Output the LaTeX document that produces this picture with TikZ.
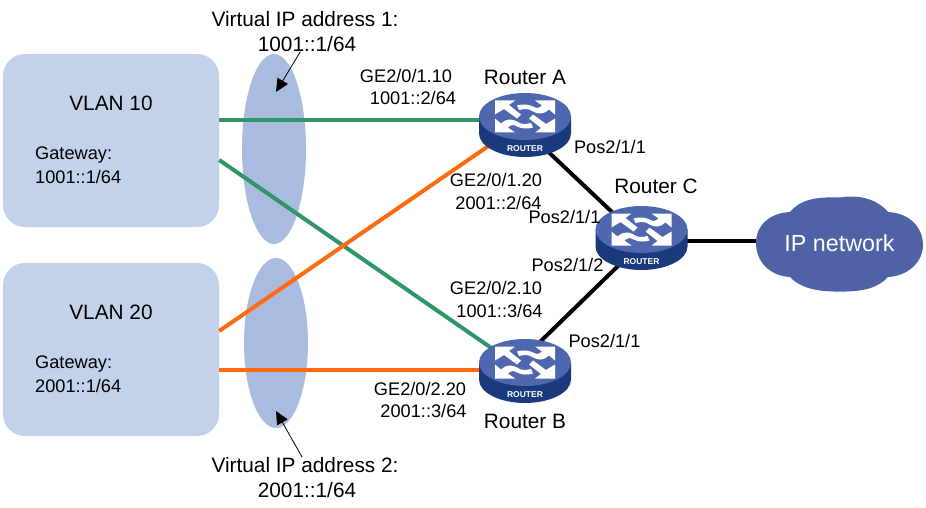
\documentclass[tikz,border=0pt]{standalone}
\usepackage{fontspec}
\setmainfont{Liberation Sans}
\usetikzlibrary{arrows.meta,shapes.geometric}
\definecolor{vlanfill}{HTML}{C3D1EA}
\definecolor{vipfill}{HTML}{A9BBDE}
\definecolor{linkgreen}{HTML}{2F9669}
\definecolor{linkorange}{HTML}{FF6A10}
\definecolor{rtop}{HTML}{4F67AE}
\definecolor{rside}{HTML}{1A3A7B}
\definecolor{cloudfill}{HTML}{4F62A6}
\tikzset{
  x=1pt,y=-1pt,
  vlanbox/.style={draw=none,fill=vlanfill,rounded corners=22pt,minimum width=216pt,minimum height=173pt,inner sep=0pt},
  vip/.style={draw=none,fill=vipfill,ellipse,minimum width=64pt,inner sep=0pt},
  small/.style={inner sep=0pt,text height=13pt,text depth=0pt,font=\fontsize{18.2}{20}\selectfont},
  big/.style={inner sep=0pt,text height=15pt,text depth=0pt,font=\fontsize{20.8}{23}\selectfont},
  routerbox/.style={inner sep=0pt,minimum width=92pt,minimum height=64pt},
  lnk/.style={line width=4pt},
  callout/.style={line width=0.8pt,-{Triangle[length=13pt,width=12pt]}}
}
\newcommand{\rarrowpair}{%
  \fill[white] (-30,-16) -- (-10,-16) -- (-16,-11.5) -- (-4,-2) -- (-8,2) -- (-21,-7.5) -- (-30,-2) -- cycle;
  \fill[white] (30,-16) -- (30,-2) -- (24,-7) .. controls (19,-2) and (13,-2) .. (8,-5)
     .. controls (4,-8) and (0,-8) .. (-6,-6.5) -- (-8,-11) .. controls (-2,-13) and (4,-12) .. (8,-10)
     .. controls (11,-8) and (14,-8) .. (17,-11) -- (10,-16) -- cycle;
}
\newcommand{\routerart}[1]{%
  \begin{scope}[shift={(#1.center)}]
    \fill[rside] (-46,-8.5) -- (-46,8.5) arc[start angle=180,end angle=360,x radius=46,y radius=-23.5] -- (46,-8.5) -- cycle;
    \fill[rtop] (0,-8.5) ellipse[x radius=46,y radius=23.5];
    \begin{scope}[shift={(0,-8.5)}]
      \rarrowpair
      \begin{scope}[rotate=180]\rarrowpair\end{scope}
    \end{scope}
    \node[inner sep=0pt,text=white,font=\bfseries\fontsize{8.5}{9}\selectfont] at (0,24) {ROUTER};
  \end{scope}%
}
\begin{document}
\begin{tikzpicture}
\useasboundingbox (0,0) rectangle (926,508);
% groups
\node[vlanbox] (v10) at (111,140.5) {};
\node[vlanbox] (v20) at (111,349.5) {};
\node[vip,minimum height=190pt] (e1) at (274,149) {};
\node[vip,minimum height=170pt] (e2) at (276,343) {};
% router and cloud placeholders
\node[routerbox] (ra) at (525,125) {};
\node[routerbox] (rb) at (525,371) {};
\node[routerbox] (rc) at (641.5,238) {};
\fill[cloudfill] (756,243) .. controls (756,225) and (770,213) .. (790,212)
  .. controls (800,200) and (815,196.5) .. (840,197.5)
  .. controls (860,194) and (878,200) .. (888,212)
  .. controls (910,213) and (923,228) .. (923,245)
  .. controls (923,262) and (908,276) .. (888,277)
  .. controls (878,288) and (862,292) .. (840,291.5)
  .. controls (818,292) and (800,288) .. (790,277)
  .. controls (770,276) and (756,262) .. (756,243) -- cycle;
\node[inner sep=0pt,minimum width=167pt,minimum height=96pt,text=white,font=\fontsize{23.3}{25}\selectfont] (cloud) at (839.5,243) {IP network};
\coordinate (tip1) at (276,92);
\coordinate (tip2) at (276,411);
% connectors
\draw[lnk,linkgreen] ([yshift=20.5pt]v10.east) -- ([yshift=5pt]ra.west);
\draw[lnk,linkgreen] ([yshift=-19.5pt]v10.east) -- ([xshift=-30pt,yshift=20.5pt]rb.center);
\draw[lnk,linkorange] ([yshift=18.5pt]v20.east) -- ([xshift=-30pt,yshift=-16.5pt]ra.center);
\draw[lnk,linkorange] ([yshift=-20.5pt]v20.east) -- ([yshift=1pt]rb.west);
\draw[lnk,black] ([xshift=15pt,yshift=-19pt]ra.center) -- ([xshift=-16.5pt,yshift=13.7pt]rc.center);
\draw[lnk,black] ([xshift=10pt,yshift=24.2pt]rb.center) -- ([xshift=-11.5pt,yshift=-16.3pt]rc.center);
\draw[lnk,black] ([yshift=-3pt]rc.center) -- ([yshift=2pt]cloud.west);
% router art
\routerart{ra}
\routerart{rb}
\routerart{rc}
% labels
\node[big] (vip1a) at (305,19) {Virtual IP address 1:};
\node[big] (vip1b) at (307,44) {1001::1/64};
\node[big] (vip2a) at (305,465) {Virtual IP address 2:};
\node[big] (vip2b) at (307,490) {2001::1/64};
\draw[callout] (vip1b.229) -- (tip1);
\draw[callout] (vip2a.110) -- (tip2);
\node[big] (v10t) at (111,103) {VLAN 10};
\node[small,anchor=west] (v10g) at (35,153) {Gateway:};
\node[small,anchor=west] (v10a) at (35,177) {1001::1/64};
\node[big] (v20t) at (111,312) {VLAN 20};
\node[small,anchor=west] (v20g) at (35,362) {Gateway:};
\node[small,anchor=west] (v20a) at (35,386) {2001::1/64};
\node[big] (rat) at (525,77) {Router A};
\node[big] (rbt) at (525,421) {Router B};
\node[big] (rct) at (656,186) {Router C};
\node[small] (l1) at (406,76) {GE2/0/1.10};
\node[small] (l2) at (413,98) {1001::2/64};
\node[small] (l3) at (496,180) {GE2/0/1.20};
\node[small] (l4) at (498.5,203) {2001::2/64};
\node[small] (l5) at (610,147) {Pos2/1/1};
\node[small] (l6) at (564.5,217) {Pos2/1/1};
\node[small] (l7) at (567.5,265) {Pos2/1/2};
\node[small] (l8) at (496,288) {GE2/0/2.10};
\node[small] (l9) at (499.5,311) {1001::3/64};
\node[small] (l10) at (604.5,341) {Pos2/1/1};
\node[small] (l11) at (420,389) {GE2/0/2.20};
\node[small] (l12) at (423.5,411) {2001::3/64};
\end{tikzpicture}
\end{document}
